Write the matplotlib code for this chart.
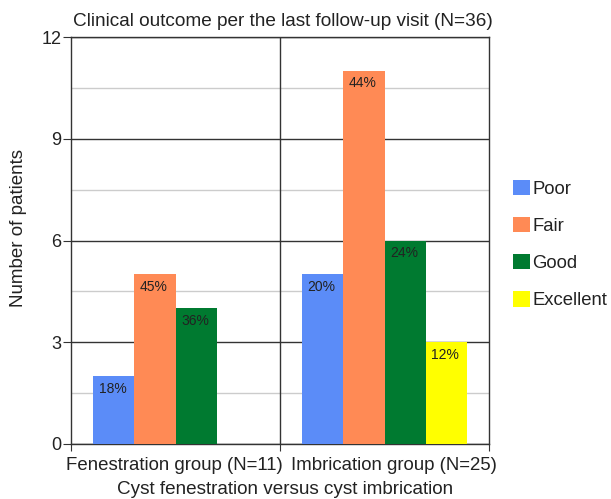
import matplotlib
matplotlib.use("Agg")
import matplotlib.pyplot as plt
import matplotlib.transforms as mtransforms
import numpy as np
from matplotlib.ticker import FixedLocator, NullFormatter

plt.rcParams["font.family"] = ["Liberation Sans", "DejaVu Sans"]

# データ
groups = ["Fenestration group (N=11)", "Imbrication group (N=25)"]
outcomes = ["Poor", "Fair", "Good", "Excellent"]
counts = {
    "Poor": [2, 5],
    "Fair": [5, 11],
    "Good": [4, 6],
    "Excellent": [0, 3],
}
pct_labels = {
    "Poor": ["18%", "20%"],
    "Fair": ["45%", "44%"],
    "Good": ["36%", "24%"],
    "Excellent": ["", "12%"],
}
colors = {
    "Poor": "#5b8cf8",
    "Fair": "#ff8a55",
    "Good": "#007a30",
    "Excellent": "#ffff00",
}

fig = plt.figure(figsize=(6.11, 4.99), dpi=100)
ax = fig.add_axes([71 / 611, 1 - 444 / 499, 418 / 611, 407 / 499])

x = np.arange(len(groups))
width = 0.1975
dark = "#333333"

for i, name in enumerate(outcomes):
    offs = (i - 1.5) * width
    vals = counts[name]
    bars = ax.bar(x + offs, vals, width, color=colors[name], label=name, zorder=3)
    for bar, txt in zip(bars, pct_labels[name]):
        if not txt:
            continue
        ax.annotate(
            txt,
            (bar.get_x(), bar.get_height()),
            xytext=(4, -4),
            textcoords="offset points",
            ha="left",
            va="top",
            fontsize=10,
            color="#222222",
            zorder=4,
        )

# 軸設定
ax.set_xlim(-0.5, 1.5)
ax.set_ylim(0, 12)
ax.set_yticks([0, 3, 6, 9, 12])
ax.yaxis.set_minor_locator(FixedLocator([1.5, 4.5, 7.5, 10.5]))
ax.tick_params(axis="y", which="major", labelsize=13, length=6, pad=1, color=dark, labelcolor="#222222")
ax.tick_params(axis="y", which="minor", length=0)

ax.set_xticks([-0.5, 0.5, 1.5])
ax.xaxis.set_major_formatter(NullFormatter())
ax.set_xticks(x, minor=True)
ax.set_xticklabels(groups, minor=True)
ax.tick_params(axis="x", which="major", length=5, color=dark)
ax.tick_params(axis="x", which="minor", length=0, labelsize=13.4, pad=9, labelcolor="#222222")

# ラベルの横位置を少しずらす
shifts = [-1.5, 9]
for lbl, dx in zip(ax.get_xticklabels(minor=True), shifts):
    lbl.set_transform(lbl.get_transform() + mtransforms.ScaledTranslation(dx / 100, 0, fig.dpi_scale_trans))

# グリッド
ax.grid(axis="y", which="major", color=dark, linewidth=1, zorder=1)
ax.grid(axis="y", which="minor", color="#cccccc", linewidth=1, zorder=1)
ax.axvline(0.5, color=dark, linewidth=1, zorder=1)
ax.set_axisbelow(True)
for sp in ax.spines.values():
    sp.set_color(dark)
    sp.set_linewidth(1)

fig.text(73 / 611, 1 - 21.5 / 499, "Clinical outcome per the last follow-up visit (N=36)",
         fontsize=13.7, color="#222222", ha="left", va="center")
ax.set_xlabel("Cyst fenestration versus cyst imbrication", fontsize=13.6, color="#222222")
ax.xaxis.set_label_coords((285 - 71) / 418, -(481 - 444) / 407)
ax.set_ylabel("Number of patients", fontsize=13.5, color="#222222")
ax.yaxis.set_label_coords((27 - 71) / 418, (444 - 228) / 407)

fig.legend(
    loc="upper left",
    bbox_to_anchor=(513 / 611, 1 - 180 / 499),
    frameon=False,
    fontsize=13.3,
    handlelength=0.9,
    handleheight=0.9,
    handletextpad=0.15,
    labelspacing=1.03,
    borderpad=0,
    borderaxespad=0,
    labelcolor="#222222",
)

plt.savefig("out.png", dpi=100)
